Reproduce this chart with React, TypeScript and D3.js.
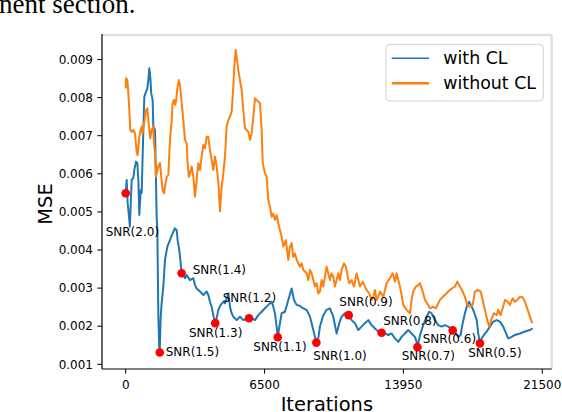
import React from "react";
import * as d3 from "d3";

// x axis: checkpoint index; ticks at evenly spaced checkpoints with iteration labels
const xTickSteps = [0, 100, 200, 300];
const xTickLabels = ["0", "6500", "13950", "21500"];
const yTicks = [0.001, 0.002, 0.003, 0.004, 0.005, 0.006, 0.007, 0.008, 0.009];

const withClSteps = [0, 0.7, 1.4, 2.4, 3.0, 4.3, 5.5, 6.2, 7.4, 8.4, 9.1, 9.8, 10.8, 11.5, 12.7, 13.4, 14.6, 15.6, 16.3, 17.0, 17.7, 18.4, 19.4, 19.9, 21.1, 21.8, 22.3, 22.8, 23.5, 24.2, 24.5, 25.2, 25.9, 27.1, 28.3, 30.0, 31.9, 33.8, 35.5, 36.7, 37.4, 38.6, 40.3, 41.5, 42.7, 43.9, 46.3, 48.7, 49.9, 51.1, 53.5, 55.9, 58.3, 59.5, 60.7, 61.9, 63.1, 64.5, 65.5, 66.7, 68.4, 70.3, 71.5, 72.7, 73.9, 75.1, 76.3, 77.5, 79.9, 82.3, 84.7, 88.8, 90.7, 93.1, 95.5, 97.9, 100.3, 102.7, 105.1, 106.3, 107.5, 108.7, 109.5, 111.1, 112.3, 114.7, 117.1, 119.5, 121.2, 123.1, 125.5, 127.9, 130.3, 132.7, 135.1, 137.3, 138.7, 139.9, 142.3, 144.7, 147.1, 149.5, 151.9, 153.8, 155.5, 157.9, 160.6, 162.7, 165.1, 167.5, 169.9, 172.3, 174.7, 177.1, 179.5, 181.9, 184.3, 186.7, 189.1, 191.5, 193.9, 196.3, 198.7, 201.1, 203.5, 205.9, 208.3, 209.5, 210.1, 212.0, 214.3, 216.7, 218.6, 220.3, 222.7, 225.1, 227.5, 229.9, 232.3, 235.5, 237.9, 239.5, 241.2, 242.7, 244.3, 246.0, 247.4, 249.2, 250.8, 252.8, 253.9, 255.1, 256.4, 258.0, 260.0, 262.3, 264.7, 267.2, 269.5, 271.9, 274.4, 275.5, 278.0, 280.3, 283.9, 287.5, 291.1, 293.1];
const withClMse = [0.00549, 0.00584, 0.00523, 0.00487, 0.00461, 0.00584, 0.00589, 0.0061, 0.00632, 0.00628, 0.00584, 0.00492, 0.00557, 0.0055, 0.00715, 0.00802, 0.00815, 0.00824, 0.00846, 0.00877, 0.00855, 0.00811, 0.00794, 0.00724, 0.00715, 0.00584, 0.00487, 0.00452, 0.00225, 0.00138, 0.00131, 0.00225, 0.00261, 0.00304, 0.00374, 0.00409, 0.00426, 0.00444, 0.00457, 0.00452, 0.00426, 0.004, 0.00339, 0.00334, 0.00326, 0.00334, 0.00321, 0.00326, 0.00308, 0.00299, 0.00291, 0.00282, 0.00291, 0.00282, 0.00264, 0.00251, 0.00229, 0.00208, 0.00221, 0.00243, 0.00256, 0.00264, 0.0026, 0.00273, 0.00286, 0.00251, 0.00234, 0.00225, 0.00216, 0.00225, 0.00216, 0.00221, 0.00221, 0.00216, 0.00229, 0.00238, 0.00247, 0.00256, 0.00264, 0.00251, 0.00234, 0.00199, 0.00171, 0.00208, 0.00234, 0.00238, 0.00269, 0.00299, 0.00269, 0.00256, 0.00253, 0.00247, 0.00243, 0.00225, 0.0019, 0.00157, 0.00168, 0.00199, 0.00229, 0.00243, 0.00247, 0.00225, 0.00181, 0.00208, 0.00225, 0.00234, 0.00229, 0.00216, 0.00208, 0.0019, 0.00199, 0.00208, 0.00216, 0.00203, 0.00194, 0.00186, 0.00183, 0.00181, 0.00177, 0.00181, 0.00168, 0.00159, 0.00172, 0.00181, 0.0019, 0.00181, 0.00172, 0.00159, 0.00145, 0.00177, 0.00203, 0.00225, 0.00238, 0.00234, 0.00216, 0.00203, 0.00199, 0.00203, 0.00199, 0.00189, 0.00181, 0.00172, 0.00177, 0.00208, 0.00234, 0.00256, 0.00264, 0.00251, 0.00238, 0.00216, 0.00181, 0.00155, 0.00168, 0.00177, 0.00186, 0.00199, 0.00212, 0.00216, 0.00212, 0.00199, 0.00177, 0.00168, 0.00172, 0.00177, 0.00181, 0.00186, 0.0019, 0.00194];

const withoutClSteps = [0, 0.2, 1.2, 1.9, 2.6, 3.3, 4.3, 5.5, 6.7, 7.9, 8.6, 9.8, 10.8, 11.5, 12.2, 13.2, 13.9, 14.6, 15.6, 16.3, 17.0, 17.7, 18.7, 19.9, 20.4, 21.1, 21.8, 22.8, 23.8, 24.7, 25.6, 26.6, 27.6, 28.3, 29.5, 30.7, 31.9, 33.1, 33.8, 34.8, 35.5, 36.2, 37.2, 38.2, 39.1, 40.3, 41.5, 42.7, 43.9, 44.6, 45.4, 46.3, 47.5, 48.7, 49.9, 51.1, 52.3, 53.5, 54.7, 55.9, 57.1, 58.3, 59.5, 60.7, 61.9, 63.1, 64.3, 65.5, 66.7, 67.9, 69.1, 70.3, 71.5, 72.7, 73.9, 75.1, 76.3, 77.5, 78.2, 79.2, 79.9, 81.1, 82.3, 83.5, 84.7, 85.9, 87.1, 88.3, 89.5, 90.7, 91.9, 93.1, 94.3, 95.5, 96.7, 97.9, 98.7, 100.3, 101.5, 102.7, 103.9, 105.1, 106.3, 107.5, 108.7, 109.9, 111.1, 112.3, 113.5, 115.4, 117.1, 118.3, 119.5, 120.7, 121.9, 123.1, 124.3, 125.5, 126.7, 127.9, 130.3, 131.5, 132.7, 133.9, 135.1, 136.3, 137.5, 138.7, 139.9, 141.1, 142.3, 143.5, 144.7, 145.9, 147.1, 148.3, 149.5, 150.7, 151.9, 153.1, 154.3, 155.5, 157.2, 158.6, 159.9, 161.0, 162.7, 164.4, 166.3, 167.5, 168.7, 170.7, 172.3, 173.5, 175.4, 177.1, 178.3, 179.5, 180.7, 181.9, 183.1, 185.5, 187.9, 190.3, 192.3, 193.9, 195.1, 196.3, 197.5, 198.7, 199.9, 202.3, 204.7, 205.9, 207.1, 209.0, 210.7, 211.9, 213.9, 215.5, 217.2, 219.1, 221.5, 223.4, 225.1, 226.3, 228.3, 229.9, 232.3, 234.8, 237.1, 238.8, 240.7, 242.7, 244.3, 246.0, 247.9, 249.9, 251.5, 253.9, 255.6, 257.1, 258.7, 260.4, 261.8, 263.6, 265.2, 267.2, 268.3, 270.0, 271.5, 273.1, 275.1, 276.7, 278.7, 280.3, 282.0, 283.9, 285.9, 287.5, 289.2, 291.1, 292.8];
const withoutClMse = [0.00824, 0.00851, 0.00846, 0.00811, 0.00767, 0.00715, 0.0071, 0.00715, 0.00706, 0.00658, 0.00649, 0.00697, 0.00715, 0.00724, 0.00706, 0.00733, 0.00746, 0.00767, 0.00772, 0.00741, 0.00715, 0.00693, 0.00715, 0.00724, 0.0068, 0.00654, 0.00592, 0.0061, 0.00623, 0.00628, 0.00592, 0.00557, 0.00549, 0.00566, 0.00592, 0.00597, 0.00689, 0.00741, 0.00785, 0.00794, 0.00781, 0.00789, 0.00824, 0.00846, 0.00833, 0.00785, 0.00741, 0.00689, 0.0068, 0.00628, 0.00592, 0.00601, 0.00619, 0.00592, 0.0054, 0.00584, 0.00628, 0.0061, 0.00645, 0.00676, 0.00667, 0.00697, 0.00697, 0.00662, 0.00636, 0.0061, 0.00645, 0.00619, 0.00579, 0.00501, 0.00566, 0.00601, 0.00645, 0.00724, 0.00741, 0.0075, 0.00763, 0.00829, 0.00881, 0.00925, 0.00907, 0.00872, 0.00846, 0.0082, 0.00767, 0.00719, 0.00715, 0.0071, 0.00689, 0.00706, 0.0075, 0.00798, 0.00794, 0.00789, 0.00785, 0.00715, 0.00628, 0.00601, 0.00592, 0.00531, 0.00514, 0.00487, 0.00496, 0.00479, 0.00492, 0.0047, 0.00452, 0.00435, 0.00409, 0.00426, 0.00374, 0.00409, 0.00418, 0.00382, 0.00391, 0.00374, 0.00365, 0.00356, 0.00365, 0.00348, 0.00339, 0.00321, 0.00348, 0.00339, 0.00321, 0.00304, 0.00313, 0.00286, 0.00291, 0.00321, 0.00304, 0.0033, 0.00356, 0.00339, 0.00321, 0.00339, 0.0033, 0.00304, 0.00321, 0.00339, 0.00321, 0.00348, 0.00365, 0.00356, 0.0033, 0.00313, 0.00321, 0.00304, 0.00339, 0.00321, 0.00304, 0.00317, 0.00304, 0.00295, 0.00286, 0.00269, 0.00277, 0.00295, 0.00269, 0.00277, 0.00291, 0.00277, 0.00313, 0.00326, 0.00339, 0.00317, 0.00339, 0.00321, 0.00304, 0.00282, 0.00256, 0.00243, 0.00234, 0.00269, 0.00291, 0.00304, 0.00308, 0.00313, 0.00291, 0.00269, 0.0026, 0.00247, 0.00251, 0.00247, 0.0026, 0.00269, 0.00277, 0.00282, 0.00291, 0.00299, 0.00304, 0.00317, 0.00304, 0.00291, 0.00277, 0.00256, 0.00251, 0.00256, 0.00291, 0.00295, 0.00291, 0.00269, 0.00243, 0.00216, 0.00199, 0.00221, 0.00234, 0.00229, 0.00243, 0.00229, 0.00247, 0.00269, 0.00264, 0.00256, 0.00273, 0.00264, 0.00269, 0.00277, 0.00276, 0.00264, 0.00247, 0.00225, 0.00208];

const snrLabels = ["SNR(2.0)", "SNR(1.5)", "SNR(1.4)", "SNR(1.3)", "SNR(1.2)", "SNR(1.1)", "SNR(1.0)", "SNR(0.9)", "SNR(0.8)", "SNR(0.7)", "SNR(0.6)", "SNR(0.5)"];
const snrSteps = [0, 24.5, 40.3, 64.5, 88.8, 109.5, 137.3, 160.6, 184.3, 210.1, 235.5, 255.1];
const snrMse = [0.00549, 0.00131, 0.00339, 0.00208, 0.00221, 0.00171, 0.00157, 0.00229, 0.00183, 0.00145, 0.00189, 0.00155];

// annotation placement (text start dx, text centre dy) in px, layout only
const LABEL_OFFSETS: [number, number][] = [
  [-20, 38.4], [6, -0.6], [11, -3.3], [-26.3, 10], [-26.3, -20], [-24.4, 9.4],
  [-3, 13.3], [-9.4, -13.6], [1.6, -11.7], [-15.8, 8.7], [-30, 8.6], [-11.7, 10],
];

const W = 562;
const H = 412;
const L = 102, R = 551.7, T = 35, B = 369;
const FONT = "'DejaVu Sans', Verdana, sans-serif";
const BLUE = "#1f77b4";
const ORANGE = "#ff7f0e";

export default function App() {
  const x = d3.scaleLinear().domain([-17.07, 306.8]).range([L, R]);
  const y = d3.scaleLinear().domain([0.000877, 0.009643]).range([B, T]);

  const line = d3
    .line<[number, number]>()
    .x((d) => x(d[0]))
    .y((d) => y(d[1]));

  const blueData: [number, number][] = withClSteps.map((s, i) => [s, withClMse[i]]);
  const orangeData: [number, number][] = withoutClSteps.map((s, i) => [s, withoutClMse[i]]);
  const fmt = d3.format(".3f");

  return (
    <svg
      width={W}
      height={H}
      style={{ position: "absolute", left: 0, top: 0, background: "#fff" }}
      fontFamily={FONT}
    >
      <rect x={0} y={0} width={W} height={H} fill="#fff" />
      <text x={-1} y={12.5} fontFamily="'Liberation Serif', 'Times New Roman', serif" fontSize={27} fill="#000">
        nent section.
      </text>

      {/* light frame top/right */}
      <line x1={L} x2={R} y1={T} y2={T} stroke="#e0e0e0" strokeWidth={2.5} />
      <line x1={R} x2={R} y1={T} y2={B} stroke="#e0e0e0" strokeWidth={2.5} />

      <defs>
        <clipPath id="plotclip">
          <rect x={L} y={T} width={R - L} height={B - T} />
        </clipPath>
      </defs>

      <g clipPath="url(#plotclip)">
        <path d={line(blueData) || ""} fill="none" stroke={BLUE} strokeWidth={2} strokeLinejoin="round" />
        <path d={line(orangeData) || ""} fill="none" stroke={ORANGE} strokeWidth={2} strokeLinejoin="round" />
      </g>

      {snrSteps.map((s, i) => (
        <circle key={"d" + i} cx={x(s)} cy={y(snrMse[i])} r={4.3} fill="#ff0000" />
      ))}
      {snrSteps.map((s, i) => (
        <text
          key={"t" + i}
          x={x(s) + LABEL_OFFSETS[i][0]}
          y={y(snrMse[i]) + LABEL_OFFSETS[i][1] + 4}
          fontSize={12}
          fill="#000"
        >
          {snrLabels[i]}
        </text>
      ))}

      {/* axes spines */}
      <line x1={L} x2={L} y1={T - 1} y2={B} stroke="#000" strokeWidth={1.2} />
      <line x1={L} x2={R} y1={B} y2={B} stroke="#000" strokeWidth={1.2} />

      {yTicks.map((t) => (
        <g key={"y" + t}>
          <line x1={L - 4.7} x2={L} y1={y(t)} y2={y(t)} stroke="#000" strokeWidth={1} />
          <text x={L - 9} y={y(t)} dy="0.35em" textAnchor="end" fontSize={12} fill="#000">
            {fmt(t)}
          </text>
        </g>
      ))}
      {xTickSteps.map((t, i) => (
        <g key={"x" + t}>
          <line x1={x(t)} x2={x(t)} y1={B} y2={B + 4.7} stroke="#000" strokeWidth={1} />
          <text x={x(t)} y={B + 19.5} textAnchor="middle" fontSize={12} fill="#000">
            {xTickLabels[i]}
          </text>
        </g>
      ))}

      <text x={(L + R) / 2} y={411} textAnchor="middle" fontSize={19.4} fill="#000">
        Iterations
      </text>
      <text
        transform={`translate(51.7, 204) rotate(-90)`}
        textAnchor="middle"
        fontSize={19.4}
        fill="#000"
      >
        MSE
      </text>

      {/* legend */}
      <rect x={386} y={44.3} width={157.3} height={56.7} rx={4} fill="#fff" fillOpacity={0.8} stroke="#d0d0d0" strokeWidth={1} />
      <line x1={391.7} x2={429} y1={58.3} y2={58.3} stroke={BLUE} strokeWidth={1.4} />
      <line x1={391.7} x2={429} y1={83.3} y2={83.3} stroke={ORANGE} strokeWidth={2.4} />
      <text x={443.3} y={58.3} dy="0.35em" fontSize={17.4} fill="#000">with CL</text>
      <text x={443.3} y={83.3} dy="0.35em" fontSize={17.4} fill="#000">without CL</text>
    </svg>
  );
}
